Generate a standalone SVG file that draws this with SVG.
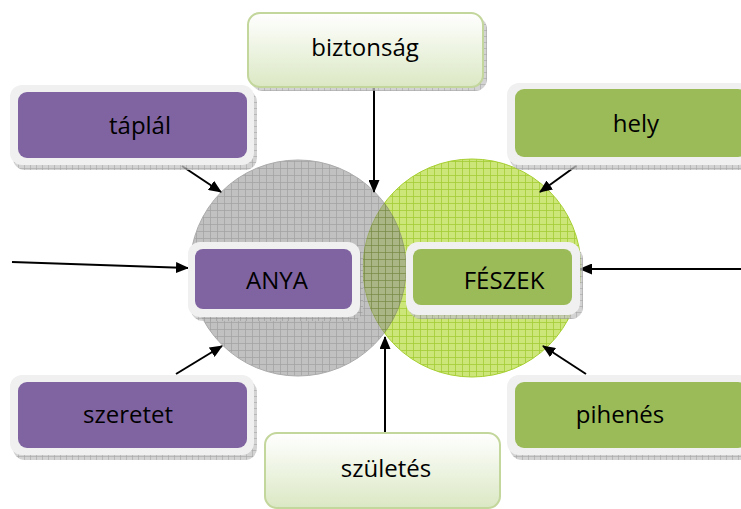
<svg xmlns="http://www.w3.org/2000/svg" width="741" height="509" viewBox="0 0 741 509">
<defs>
<pattern id="gridGray" width="7" height="7" patternUnits="userSpaceOnUse">
<rect width="7" height="7" fill="#909090"/>
<path d="M0 0.5H7M0.5 0V7" stroke="#555" stroke-width="0.7"/>
</pattern>
<pattern id="gridGreen" width="7" height="7" patternUnits="userSpaceOnUse">
<rect width="7" height="7" fill="#cde67a"/>
<path d="M0 0.5H7M0.5 0V7" stroke="#a3cc35" stroke-width="0.8"/>
</pattern>
<pattern id="hatch" width="6" height="6" patternUnits="userSpaceOnUse">
<rect width="6" height="6" fill="#c4c4c4"/>
<path d="M0 0.5H6M0.5 0V6" stroke="#888" stroke-width="0.6"/>
</pattern>
<linearGradient id="lightGreen" x1="0" y1="0" x2="0" y2="1">
<stop offset="0" stop-color="#ffffff"/>
<stop offset="1" stop-color="#dbe8c4"/>
</linearGradient>
<marker id="arrow" viewBox="0 0 13 11" refX="12" refY="5.5" markerWidth="13" markerHeight="11" markerUnits="userSpaceOnUse" orient="auto">
<path d="M0 0L13 5.5L0 11Z" fill="#000"/>
</marker>
<style>
.lbl{font-family:"Open Sans","Liberation Sans",sans-serif;font-size:24px;fill:#000;text-anchor:middle;dominant-baseline:central}
.outer{fill:#f0f0f0}
.shadow{fill:url(#hatch);opacity:0.75}
.purple{fill:#8064a2}
.green{fill:#9bbb59}
.light{fill:url(#lightGreen);stroke:#c3d69b;stroke-width:2}
.conn{stroke:#000;stroke-width:2;fill:none;marker-end:url(#arrow)}
</style>
</defs>

<g id="circles">
<circle cx="472" cy="268" r="109" fill="url(#gridGreen)" stroke="#a6cf30" stroke-width="1"/>
<circle cx="298" cy="268" r="108" fill="url(#gridGray)" opacity="0.55" stroke="#666" stroke-width="1"/>
</g>

<g id="connectors">
<line class="conn" x1="374" y1="88" x2="374" y2="192"/>
<line class="conn" x1="182" y1="166" x2="221" y2="192"/>
<line class="conn" x1="576" y1="166" x2="540" y2="192"/>
<line class="conn" x1="12" y1="262" x2="188" y2="268"/>
<line class="conn" x1="741" y1="269" x2="580" y2="269"/>
<line class="conn" x1="176" y1="374" x2="222" y2="346"/>
<line class="conn" x1="586" y1="374" x2="543" y2="346"/>
<line class="conn" x1="385" y1="433" x2="385" y2="337"/>
</g>

<g id="biztonsag">
<rect class="shadow" x="251" y="17" width="236" height="74" rx="12"/>
<rect class="light" x="248" y="13" width="235" height="74" rx="12"/>
<text class="lbl" x="365" y="46">biztonság</text>
</g>

<g id="taplal">
<rect class="shadow" x="13" y="90" width="244" height="80" rx="12"/>
<rect class="outer" x="10" y="85" width="244" height="80" rx="12"/>
<rect class="purple" x="18" y="92" width="229" height="66" rx="9"/>
<text class="lbl" x="140" y="124">táplál</text>
</g>

<g id="hely">
<rect class="shadow" x="510" y="90" width="244" height="80" rx="12"/>
<rect class="outer" x="507" y="83" width="244" height="82" rx="12"/>
<rect class="green" x="515" y="89" width="232" height="68" rx="9"/>
<text class="lbl" x="636" y="122">hely</text>
</g>

<g id="anya">
<rect class="shadow" x="191" y="247" width="172" height="74" rx="12"/>
<rect class="outer" x="188" y="242" width="172" height="75" rx="12"/>
<rect class="purple" x="195" y="249" width="157" height="60" rx="8"/>
<text class="lbl" x="277" y="279">ANYA</text>
</g>

<g id="feszek">
<rect class="shadow" x="409" y="247" width="174" height="72" rx="12"/>
<rect class="outer" x="406" y="242" width="174" height="73" rx="12"/>
<rect class="green" x="413" y="249" width="159" height="56" rx="8"/>
<text class="lbl" x="504" y="279">FÉSZEK</text>
</g>

<g id="szeretet">
<rect class="shadow" x="13" y="380" width="244" height="80" rx="12"/>
<rect class="outer" x="10" y="375" width="244" height="80" rx="12"/>
<rect class="purple" x="18" y="382" width="229" height="66" rx="9"/>
<text class="lbl" x="128" y="413">szeretet</text>
</g>

<g id="pihenes">
<rect class="shadow" x="510" y="380" width="244" height="80" rx="12"/>
<rect class="outer" x="507" y="375" width="244" height="80" rx="12"/>
<rect class="green" x="515" y="382" width="232" height="66" rx="9"/>
<text class="lbl" x="620" y="413">pihenés</text>
</g>

<g id="szuletes">
<rect class="light" x="265" y="433" width="235" height="75" rx="12"/>
<text class="lbl" x="386" y="467">születés</text>
</g>
</svg>
